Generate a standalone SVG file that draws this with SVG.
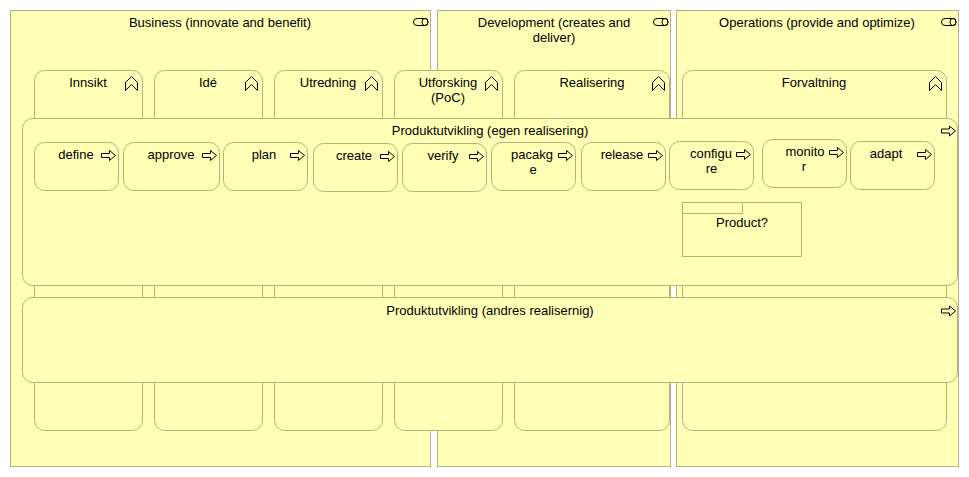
<svg xmlns="http://www.w3.org/2000/svg" width="969" height="477" viewBox="0 0 969 477">
<style>
.box{fill:#ffffb5;stroke:#b2b27f;stroke-width:1}
.ico{fill:none;stroke:#000;stroke-width:1;stroke-linejoin:miter}
text{font-family:"Liberation Sans",Arial,sans-serif;font-size:13px;fill:#000;text-anchor:middle}
</style>
<defs>
<path id="proc" class="ico" d="M0.5,3 H8.5 V0 L14.5,5 L8.5,10 V7 H0.5 Z"/>
<path id="func" d="M0,6 L6,0 L12,6 L12,14 L6,8 L0,14 Z" fill="none" stroke="#000"/>
<g id="role" fill="none" stroke="#000">
<path d="M3.5,0 H11.5 A3,3.5 0 0 1 11.5,7 H3.5 A3.5,3.5 0 0 1 3.5,0 Z"/>
<ellipse cx="11.5" cy="3.5" rx="3" ry="3.5"/>
</g>
</defs>
<rect width="969" height="477" fill="#fff"/>

<g id="role-business">
<rect class="box" x="10.5" y="10.5" width="420" height="456"/>
<use href="#role" x="413.5" y="18.5"/>
<text x="220" y="27">Business (innovate and benefit)</text>
</g>
<g id="role-development">
<rect class="box" x="437.5" y="10.5" width="233" height="456"/>
<use href="#role" x="653.5" y="18.5"/>
<text x="554" y="27">Development (creates and</text>
<text x="554" y="42">deliver)</text>
</g>
<g id="role-operations">
<rect class="box" x="676.5" y="10.5" width="282" height="456"/>
<use href="#role" x="941.5" y="18.5"/>
<text x="817" y="27">Operations (provide and optimize)</text>
</g>

<g id="fn-innsikt">
<rect class="box" x="34.5" y="70.5" width="108" height="360" rx="10"/>
<use href="#func" x="125.5" y="76.5"/>
<text x="88" y="87">Innsikt</text>
</g>
<g id="fn-ide">
<rect class="box" x="154.5" y="70.5" width="108" height="360" rx="10"/>
<use href="#func" x="245.5" y="76.5"/>
<text x="208" y="87">Idé</text>
</g>
<g id="fn-utredning">
<rect class="box" x="274.5" y="70.5" width="108" height="360" rx="10"/>
<use href="#func" x="365.5" y="76.5"/>
<text x="328" y="87">Utredning</text>
</g>
<g id="fn-utforsking">
<rect class="box" x="394.5" y="70.5" width="108" height="360" rx="10"/>
<use href="#func" x="485.5" y="76.5"/>
<text x="448" y="87">Utforsking</text>
<text x="448" y="102">(PoC)</text>
</g>
<g id="fn-realisering">
<rect class="box" x="514.5" y="70.5" width="155" height="360" rx="10"/>
<use href="#func" x="652.5" y="76.5"/>
<text x="592" y="87">Realisering</text>
</g>
<g id="fn-forvaltning">
<rect class="box" x="682.5" y="70.5" width="264" height="360" rx="10"/>
<use href="#func" x="929.5" y="76.5"/>
<text x="814" y="87">Forvaltning</text>
</g>

<g id="proc-egen">
<rect class="box" x="22.5" y="118.5" width="935" height="167" rx="10"/>
<use href="#proc" x="941" y="126"/>
<text x="490" y="135">Produktutvikling (egen realisering)</text>
</g>

<g id="p-define">
<rect class="box" x="34.5" y="142.5" width="84" height="48" rx="10"/>
<use href="#proc" x="101" y="150.5"/>
<text x="76" y="159">define</text>
</g>
<g id="p-approve">
<rect class="box" x="123.5" y="142.5" width="96" height="48" rx="10"/>
<use href="#proc" x="202" y="150.5"/>
<text x="171" y="159">approve</text>
</g>
<g id="p-plan">
<rect class="box" x="223.5" y="142.5" width="84" height="48" rx="10"/>
<use href="#proc" x="290" y="150.5"/>
<text x="264" y="159">plan</text>
</g>
<g id="p-create">
<rect class="box" x="313.5" y="143.5" width="84" height="48" rx="10"/>
<use href="#proc" x="380" y="151.5"/>
<text x="354" y="160">create</text>
</g>
<g id="p-verify">
<rect class="box" x="402.5" y="143.5" width="84" height="48" rx="10"/>
<use href="#proc" x="469" y="151.5"/>
<text x="443" y="160">verify</text>
</g>
<g id="p-pacakge">
<rect class="box" x="491.5" y="142.5" width="84" height="48" rx="10"/>
<use href="#proc" x="558" y="150.5"/>
<text x="532" y="159">pacakg</text>
<text x="533" y="174">e</text>
</g>
<g id="p-release">
<rect class="box" x="581.5" y="142.5" width="84" height="48" rx="10"/>
<use href="#proc" x="648" y="150.5"/>
<text x="622" y="159">release</text>
</g>
<g id="p-configure">
<rect class="box" x="669.5" y="141.5" width="84" height="48" rx="10"/>
<use href="#proc" x="736" y="149.5"/>
<text x="711" y="158">configu</text>
<text x="711.5" y="173">re</text>
</g>
<g id="p-monitor">
<rect class="box" x="762.5" y="139.5" width="84" height="48" rx="10"/>
<use href="#proc" x="829" y="147.5"/>
<text x="805" y="156">monito</text>
<text x="804" y="171">r</text>
</g>
<g id="p-adapt">
<rect class="box" x="850.5" y="141.5" width="84" height="48" rx="10"/>
<use href="#proc" x="917" y="149.5"/>
<text x="886" y="158">adapt</text>
</g>

<g id="product">
<rect class="box" x="682.5" y="202.5" width="119" height="54"/>
<path d="M682.5,213.5 H742.5 V202.5" fill="none" stroke="#b2b27f"/>
<text x="742" y="227">Product?</text>
</g>

<g id="proc-andres">
<rect class="box" x="22.5" y="297.5" width="935" height="85" rx="10"/>
<use href="#proc" x="941" y="306"/>
<text x="490" y="315">Produktutvikling (andres realisernig)</text>
</g>

<g id="connectors"/>
</svg>
